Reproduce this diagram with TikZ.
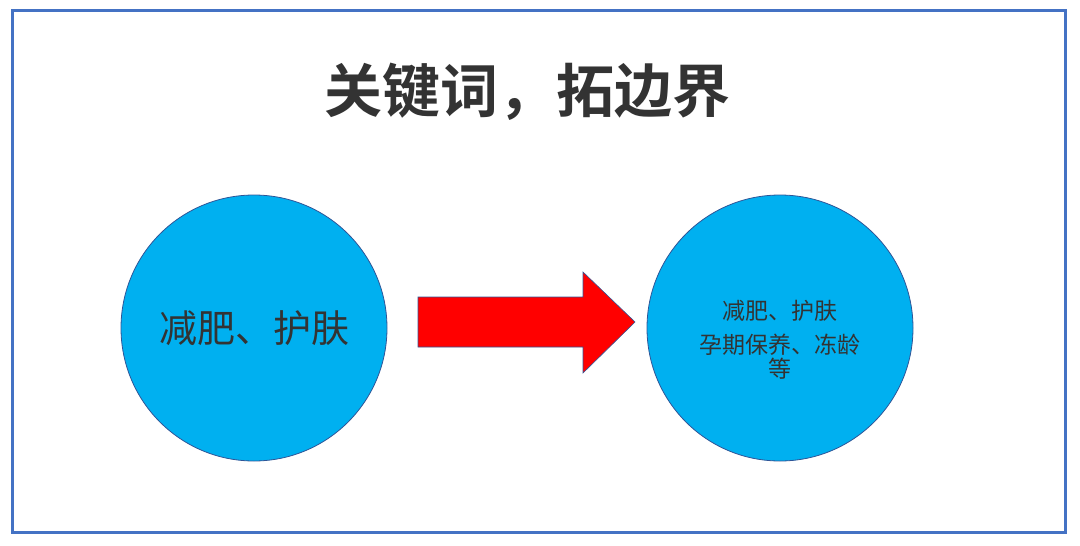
\documentclass[tikz,border=0pt]{standalone}
\usepackage{fontspec}
\setmainfont{Noto Sans CJK SC}
\newfontfamily\cjkb{Noto Sans CJK SC Bold}
\definecolor{frameblue}{HTML}{4472C4}
\definecolor{circfill}{HTML}{00B0F0}
\definecolor{circedge}{HTML}{2F5597}
\definecolor{txt}{HTML}{333333}
\begin{document}
\begin{tikzpicture}[x=1pt,y=-1pt,
  circ/.style={circle,fill=circfill,draw=circedge,line width=0.8pt,minimum size=266pt,inner sep=0pt},
  lbl/.style={text=txt,align=center}]
\useasboundingbox (0,0) rectangle (1080,546);
\draw[frameblue,line width=3pt] (12,10) rectangle (1065,532);
\node[lbl,font=\cjkb\fontsize{58}{64}\selectfont] (title) at (527,92) {关键词，拓边界};
\node[circ] (c1) at (254,328) {};
\node[lbl,font=\fontsize{38}{44}\selectfont] (t1) at (c1) {减肥、护肤};
\node[circ] (c2) at (780,328) {};
\node[lbl,font=\fontsize{23}{30}\selectfont] (t2) at (780,340) {减肥、护肤\\[4pt]孕期保养、冻龄\\[-6pt]等};
\draw[fill=red,draw=circedge,line width=0.6pt] (418,297) -- (583,297) -- (583,272) -- (635,322) -- (583,373) -- (583,347) -- (418,347) -- cycle;
\end{tikzpicture}
\end{document}
